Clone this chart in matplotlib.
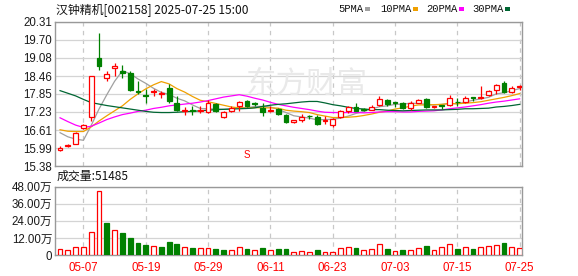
import matplotlib
matplotlib.use('Agg')
import matplotlib.pyplot as plt
from matplotlib.patches import Rectangle
import numpy as np

plt.rcParams['font.family'] = ['Liberation Sans', 'Noto Sans CJK SC']

# ---------------- data ----------------
dates = ["04-29", "04-30", "05-06", "05-07", "05-08", "05-09", "05-12", "05-13", "05-14", "05-15",
         "05-16", "05-19", "05-20", "05-21", "05-22", "05-23", "05-26", "05-27", "05-28", "05-29",
         "05-30", "06-03", "06-04", "06-05", "06-06", "06-09", "06-10", "06-11", "06-12", "06-13",
         "06-16", "06-17", "06-18", "06-19", "06-20", "06-23", "06-24", "06-25", "06-26", "06-27",
         "06-30", "07-01", "07-02", "07-03", "07-04", "07-07", "07-08", "07-09", "07-10", "07-11",
         "07-14", "07-15", "07-16", "07-17", "07-18", "07-21", "07-22", "07-23", "07-24", "07-25"]

opens = [15.94, 16.06, 16.15, 16.69, 17.06, 19.08, 18.38, 18.72, 18.62, 18.56,
         17.95, 17.81, 17.91, 17.85, 18.06, 17.54, 17.27, 17.30, 17.26, 17.22,
         17.51, 17.05, 17.27, 17.45, 17.62, 17.53, 17.37, 17.26, 17.34, 17.14,
         16.87, 16.94, 17.10, 17.06, 16.91, 16.77, 17.06, 17.28, 17.40, 17.32,
         17.31, 17.48, 17.65, 17.57, 17.55, 17.37, 17.55, 17.68, 17.40, 17.47,
         17.46, 17.58, 17.58, 17.74, 17.70, 17.82, 17.97, 18.22, 17.91, 18.08]
highs = [16.05, 16.13, 16.55, 16.83, 18.46, 19.95, 18.64, 18.92, 18.83, 18.62,
         18.29, 18.01, 18.03, 17.95, 18.20, 17.79, 17.39, 17.43, 17.43, 17.63,
         17.54, 17.28, 17.45, 17.60, 17.64, 17.57, 17.54, 17.43, 17.37, 17.16,
         16.97, 17.17, 17.14, 17.11, 17.09, 17.03, 17.31, 17.45, 17.52, 17.35,
         17.47, 17.79, 17.68, 17.57, 17.58, 17.60, 17.67, 17.72, 17.45, 17.48,
         17.82, 17.71, 17.78, 17.74, 18.11, 17.99, 18.20, 18.28, 18.11, 18.15]
lows = [15.90, 16.02, 16.12, 16.64, 16.92, 18.68, 18.30, 18.47, 18.40, 17.94,
        17.86, 17.55, 17.77, 17.72, 17.55, 17.26, 17.14, 17.14, 17.20, 17.20,
        17.23, 17.01, 17.22, 17.26, 17.41, 17.43, 17.09, 17.22, 17.11, 16.86,
        16.84, 16.88, 16.99, 16.80, 16.83, 16.72, 17.03, 17.20, 17.26, 17.27,
        17.29, 17.43, 17.43, 17.39, 17.34, 17.31, 17.52, 17.36, 17.35, 17.34,
        17.45, 17.45, 17.55, 17.60, 17.68, 17.79, 17.85, 17.88, 17.88, 17.99]
closes = [16.00, 16.09, 16.52, 16.78, 18.46, 18.82, 18.54, 18.81, 18.57, 17.97,
          17.92, 17.79, 17.96, 17.88, 17.59, 17.29, 17.31, 17.28, 17.30, 17.52,
          17.26, 17.23, 17.37, 17.56, 17.43, 17.51, 17.22, 17.30, 17.15, 16.88,
          16.94, 17.05, 17.08, 16.83, 16.95, 16.98, 17.28, 17.39, 17.28, 17.30,
          17.41, 17.68, 17.51, 17.53, 17.38, 17.54, 17.63, 17.39, 17.42, 17.45,
          17.71, 17.56, 17.71, 17.70, 17.73, 17.96, 18.16, 17.90, 18.04, 18.11]
prev_close = 15.91

ma5 = [16.52, 16.38, 16.30, 16.26, 16.77, 17.33, 17.82, 18.28, 18.64, 18.54,
       18.36, 18.21, 18.04, 17.90, 17.83, 17.70, 17.61, 17.47, 17.35, 17.34,
       17.33, 17.32, 17.34, 17.39, 17.37, 17.42, 17.42, 17.40, 17.32, 17.21,
       17.10, 17.06, 17.02, 16.96, 16.97, 16.98, 17.02, 17.09, 17.18, 17.25,
       17.33, 17.41, 17.44, 17.49, 17.50, 17.53, 17.52, 17.49, 17.47, 17.49,
       17.52, 17.51, 17.57, 17.63, 17.68, 17.73, 17.85, 17.89, 17.96, 18.03]
ma10 = [16.62, 16.57, 16.56, 16.56, 16.72, 16.92, 17.10, 17.27, 17.44, 17.66,
        17.85, 18.02, 18.16, 18.27, 18.19, 18.03, 17.91, 17.76, 17.63, 17.58,
        17.52, 17.46, 17.40, 17.37, 17.36, 17.38, 17.37, 17.37, 17.36, 17.29,
        17.26, 17.24, 17.21, 17.14, 17.09, 17.04, 17.04, 17.05, 17.07, 17.11,
        17.16, 17.22, 17.26, 17.33, 17.37, 17.43, 17.47, 17.47, 17.48, 17.49,
        17.52, 17.51, 17.53, 17.55, 17.58, 17.63, 17.68, 17.73, 17.79, 17.86]
ma20 = [17.03, 16.90, 16.78, 16.70, 16.74, 16.85, 16.97, 17.06, 17.14, 17.19,
        17.25, 17.29, 17.35, 17.39, 17.44, 17.47, 17.50, 17.53, 17.57, 17.62,
        17.68, 17.74, 17.78, 17.82, 17.77, 17.70, 17.64, 17.56, 17.49, 17.44,
        17.39, 17.35, 17.31, 17.26, 17.22, 17.21, 17.21, 17.21, 17.21, 17.20,
        17.21, 17.23, 17.24, 17.24, 17.23, 17.23, 17.25, 17.26, 17.27, 17.30,
        17.34, 17.37, 17.40, 17.44, 17.48, 17.53, 17.57, 17.60, 17.64, 17.68]
ma30 = [17.96, 17.87, 17.78, 17.66, 17.55, 17.50, 17.45, 17.41, 17.37, 17.33,
        17.29, 17.25, 17.22, 17.21, 17.21, 17.22, 17.24, 17.25, 17.27, 17.29,
        17.31, 17.32, 17.33, 17.34, 17.35, 17.37, 17.42, 17.46, 17.49, 17.51,
        17.54, 17.57, 17.59, 17.59, 17.54, 17.48, 17.44, 17.39, 17.35, 17.33,
        17.31, 17.31, 17.29, 17.28, 17.27, 17.28, 17.29, 17.30, 17.30, 17.30,
        17.31, 17.32, 17.34, 17.34, 17.35, 17.36, 17.40, 17.42, 17.45, 17.49]

# volume in units of 万 (10k lots)
volumes = [4.0, 3.5, 5.4, 5.4, 16.2, 44.7, 22.7, 17.6, 15.5, 11.9,
           8.4, 7.0, 6.3, 5.6, 9.1, 7.7, 5.4, 4.9, 4.9, 4.9,
           4.0, 3.5, 3.5, 5.4, 4.2, 3.5, 4.9, 3.5, 4.2, 4.2,
           1.9, 2.6, 1.9, 3.5, 1.9, 1.9, 4.7, 5.4, 4.9, 3.5,
           4.2, 7.5, 4.2, 2.8, 3.5, 3.5, 4.7, 6.3, 3.5, 5.4,
           7.5, 4.2, 5.4, 4.2, 5.4, 6.3, 6.8, 8.4, 5.4, 5.15]

price_ticks = [15.38, 15.99, 16.61, 17.23, 17.85, 18.46, 19.08, 19.70, 20.31]
vol_ticks = [0, 12, 24, 36, 48]
vol_tick_labels = ["0", "12.00万", "24.00万", "36.00万", "48.00万"]
date_ticks = ["05-07", "05-19", "05-29", "06-11", "06-23", "07-03", "07-15", "07-25"]
ma_names = ["5PMA", "10PMA", "20PMA", "30PMA"]
title = "汉钟精机[002158] 2025-07-25 15:00"
vol_title = "成交量:51485"
signal_date = "06-06"
signal_text = "S"

# ---------------- styling ----------------
RED = '#ff0000'
GREEN = '#008000'
MA_COLORS = ['#a0a0a0', '#f0a000', '#ff00ff', '#006633']
GRID = '#d4d4d4'
SPINE = '#999999'
LABEL = '#1a1a1a'

W, H = 578, 276
fig = plt.figure(figsize=(W / 100, H / 100), dpi=100)


def fx(px):
    return px / W


def fy(py):
    return 1 - py / H


ax = fig.add_axes([fx(55), fy(166), fx(522) - fx(55), fy(22) - fy(166)])
axv = fig.add_axes([fx(55), fy(255), fx(522) - fx(55), fy(186.7) - fy(255)])

x = np.arange(len(closes))
o = np.array(opens)
hi = np.array(highs)
lo = np.array(lows)
c = np.array(closes)
up = c >= o
cols = np.where(up, RED, GREEN)
bb = np.minimum(o, c)
bt = np.maximum(o, c)
bh = np.maximum(bt - bb, 0.012)
wid = 0.62

# MA lines
for vals, col in zip([ma5, ma10, ma20, ma30], MA_COLORS):
    ax.plot(x, vals, color=col, lw=0.9, zorder=4, solid_joinstyle='miter')

# wicks
ax.vlines(x, bt, hi, colors=cols, lw=0.9, zorder=5)
ax.vlines(x, lo, bb, colors=cols, lw=0.9, zorder=5)
# bodies
ax.bar(x[up], bh[up], bottom=bb[up], width=wid, facecolor='white', edgecolor=RED,
       linewidth=0.9, zorder=6)
ax.bar(x[~up], bh[~up], bottom=bb[~up], width=wid, facecolor=GREEN, edgecolor=GREEN,
       linewidth=0.9, zorder=6)

# signal marker
si = dates.index(signal_date)
ax.text(si, 15.76, signal_text, color=RED, fontsize=7, ha='center', va='center', zorder=7)

# watermark
ax.text(307, 0, "", transform=ax.transData)
fig.text(fx(307), fy(84), "东方财富", fontsize=22, color='#e9e9e9', ha='center', va='center',
         family=['Noto Sans CJK SC'], zorder=0)

xt = [dates.index(d) for d in date_ticks]
for a in (ax, axv):
    a.set_xlim(-0.65, len(closes) - 0.7)
    a.set_xticks(xt)
    a.set_facecolor('none')
    for s in a.spines.values():
        s.set_color(SPINE)
        s.set_linewidth(1.0)
    a.grid(True, axis='x', color='#c8c8c8', lw=0.9, linestyle=(0, (3.5, 3.5)), zorder=0)
    a.grid(True, axis='y', color=GRID, lw=0.9, zorder=0)
    a.set_axisbelow(True)
    a.tick_params(length=0)

ax.set_ylim(price_ticks[0], price_ticks[-1])
ax.set_yticks(price_ticks)
ax.set_yticklabels([f"{t:.2f}" for t in price_ticks], fontsize=8.3, color=LABEL)
ax.tick_params(axis='y', pad=2)
ax.set_xticklabels([])

# volume
prev = np.concatenate([[prev_close], c[:-1]])
vup = c >= prev
v = np.array(volumes)
axv.bar(x[vup], v[vup], width=wid, facecolor='white', edgecolor=RED, linewidth=0.9, zorder=3)
axv.bar(x[~vup], v[~vup], width=wid, facecolor=GREEN, edgecolor=GREEN, linewidth=0.9, zorder=3)
axv.set_ylim(0, 48)
axv.set_yticks(vol_ticks)
axv.set_yticklabels(vol_tick_labels, fontsize=8.3, color=LABEL)
axv.set_xticklabels(date_ticks, fontsize=8.3, color=RED)
axv.tick_params(axis='y', pad=2)
axv.tick_params(axis='x', pad=5)

# titles
fig.text(fx(56), fy(10.5), title, fontsize=8.6, ha='left', va='center', color='#111111',
         family=['Noto Sans CJK SC'])
fig.text(fx(57), fy(176.5), vol_title, fontsize=8.6, ha='left', va='center', color='#111111',
         family=['Noto Sans CJK SC'])

# MA legend
leg_x = [338, 380, 426, 472]
sq_x = [365, 413, 459, 505]
for name, lx, sx, col in zip(ma_names, leg_x, sq_x, MA_COLORS):
    fig.text(fx(lx), fy(9.5), name, fontsize=7.6, ha='left', va='center', color='#111111',
             family=['Liberation Mono'])
    fig.patches.append(Rectangle((fx(sx), fy(10.5)), 5 / W, 3 / H, transform=fig.transFigure,
                                 facecolor=col, edgecolor='none'))

fig.savefig('out.png', dpi=100)
